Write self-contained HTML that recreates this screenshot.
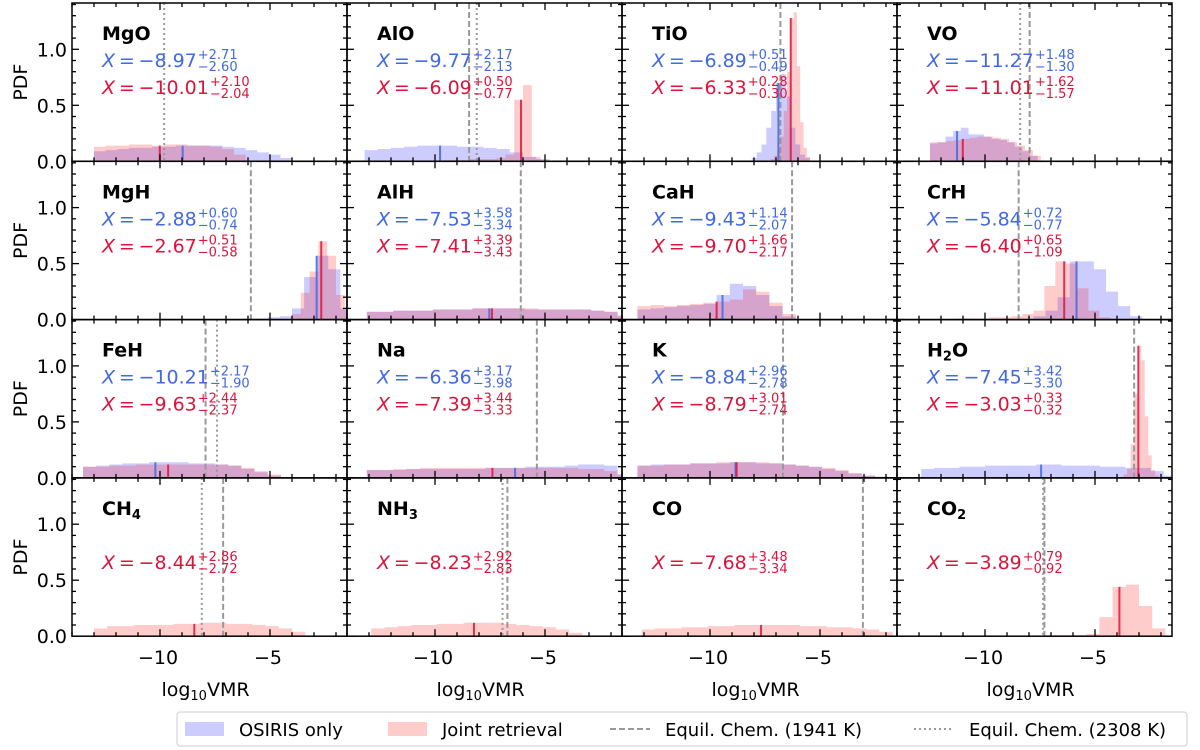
<!DOCTYPE html>
<html><head><meta charset="utf-8">
<style>
html,body{margin:0;padding:0;background:#fff;}
svg{display:block;font-family:"DejaVu Sans","Liberation Sans",sans-serif;}
</style></head>
<body>
<svg id="fig" width="1200" height="750" viewBox="0 0 1200 750" xmlns="http://www.w3.org/2000/svg">
<g id="panels"></g>
<g id="legend">
  <rect x="177" y="712" width="1010" height="34" rx="3" fill="#fff" stroke="#cccccc" stroke-width="1"/>
  <rect x="185" y="722" width="39" height="14" fill="#ccccff"/>
  <text x="239" y="736" font-size="18" fill="#000">OSIRIS only</text>
  <rect x="388" y="722" width="39" height="14" fill="#ffcccc"/>
  <text x="442" y="736" font-size="18" fill="#000">Joint retrieval</text>
  <line x1="610" y1="729" x2="650" y2="729" stroke="#999" stroke-width="2" stroke-dasharray="6,3"/>
  <text x="665" y="736" font-size="18" fill="#000">Equil. Chem. (1941 K)</text>
  <line x1="914" y1="729" x2="954" y2="729" stroke="#999" stroke-width="2" stroke-dasharray="2,3"/>
  <text x="969" y="736" font-size="18" fill="#000">Equil. Chem. (2308 K)</text>
</g>
</svg>
<script>
// ---- data ----
const panelNames = ["MgO","AlO","TiO","VO","MgH","AlH","CaH","CrH","FeH","Na","K","H2O","CH4","NH3","CO","CO2"];
const blueStart = [-13.0,-13.2,-8.1,-12.5,-6.2,-13.1,-13.3,-7.8,-13.5,-13.1,-13.3,-12.9,null,null,null,null];
const blueWidth = [0.53,0.6,0.22,0.35,0.55,0.6,0.6,0.55,0.6,0.6,0.6,0.58,0,0,0,0];
const blueHeights = [
 [0.09,0.10,0.11,0.12,0.12,0.13,0.13,0.14,0.14,0.14,0.14,0.13,0.12,0.10,0.08,0.06,0.03],
 [0.10,0.11,0.12,0.13,0.14,0.14,0.14,0.13,0.13,0.12,0.11,0.08,0.04,0.02],
 [0.03,0.08,0.15,0.30,0.45,0.70,0.78,0.58,0.30,0.15,0.06,0.03],
 [0.16,0.17,0.22,0.27,0.30,0.24,0.24,0.22,0.20,0.19,0.17,0.13,0.09,0.05],
 [0.01,0.01,0.02,0.03,0.10,0.38,0.57,0.45,0.10],
 [0.07,0.07,0.08,0.08,0.08,0.09,0.09,0.09,0.10,0.10,0.10,0.10,0.09,0.09,0.09,0.09,0.09,0.08,0.07,0.03],
 [0.09,0.10,0.11,0.12,0.13,0.14,0.22,0.32,0.30,0.22,0.12,0.03],
 [0.03,0.08,0.20,0.52,0.52,0.45,0.25,0.12,0.03],
 [0.10,0.11,0.12,0.13,0.13,0.14,0.14,0.14,0.13,0.13,0.12,0.11,0.08,0.05,0.02],
 [0.07,0.07,0.07,0.08,0.08,0.08,0.08,0.08,0.08,0.09,0.09,0.09,0.10,0.10,0.10,0.11,0.12,0.12,0.11,0.03],
 [0.11,0.12,0.12,0.12,0.13,0.13,0.13,0.14,0.14,0.13,0.13,0.12,0.11,0.10,0.08,0.06,0.04,0.02,0.01],
 [0.08,0.09,0.09,0.10,0.10,0.11,0.11,0.11,0.11,0.12,0.12,0.11,0.11,0.11,0.10,0.10,0.09,0.09,0.06,0.02],
 [],[],[],[]
];
const redStart = [-13.0,-9.6,-7.25,-12.5,-4.0,-13.1,-13.3,-11.3,-13.5,-13.1,-13.3,-3.7,-13.0,-12.9,-13.1,-7.2];
const redWidth = [0.53,0.4,0.15,0.36,0.4,0.6,0.6,0.5,0.6,0.6,0.6,0.16,0.6,0.6,0.6,0.6];
const redHeights = [
 [0.13,0.14,0.14,0.15,0.15,0.14,0.15,0.15,0.14,0.14,0.13,0.11,0.06],
 [0.01,0.01,0.01,0.02,0.02,0.02,0.03,0.06,0.55,0.68,0.04],
 [0.02,0.05,0.10,0.22,0.45,0.80,1.28,1.33,0.85,0.35,0.12,0.04],
 [0.17,0.17,0.18,0.19,0.20,0.21,0.22,0.22,0.21,0.20,0.17,0.14,0.10,0.05],
 [0.05,0.24,0.43,0.70,0.57,0.22,0.08],
 [0.07,0.07,0.08,0.08,0.08,0.09,0.09,0.09,0.10,0.10,0.10,0.10,0.10,0.09,0.09,0.09,0.09,0.08,0.07,0.04],
 [0.12,0.13,0.12,0.13,0.14,0.15,0.16,0.18,0.27,0.25,0.15,0.05],
 [0.01,0.01,0.01,0.02,0.02,0.03,0.05,0.08,0.30,0.52,0.50,0.28,0.08,0.02],
 [0.10,0.10,0.11,0.11,0.12,0.12,0.12,0.12,0.12,0.12,0.12,0.11,0.09,0.06,0.03],
 [0.07,0.07,0.08,0.08,0.09,0.09,0.09,0.09,0.09,0.09,0.09,0.09,0.09,0.09,0.09,0.09,0.08,0.08,0.06,0.03],
 [0.11,0.11,0.12,0.12,0.13,0.13,0.14,0.14,0.14,0.14,0.13,0.12,0.11,0.10,0.09,0.07,0.04,0.02,0.01],
 [0.03,0.08,0.30,0.75,1.18,1.05,0.55,0.20,0.07,0.02],
 [0.07,0.09,0.09,0.10,0.10,0.10,0.11,0.11,0.12,0.12,0.11,0.11,0.10,0.09,0.07,0.04],
 [0.07,0.08,0.09,0.10,0.10,0.11,0.11,0.12,0.12,0.12,0.11,0.10,0.09,0.08,0.06,0.03],
 [0.06,0.07,0.07,0.08,0.08,0.09,0.09,0.10,0.10,0.10,0.10,0.10,0.09,0.09,0.08,0.08,0.07,0.06,0.04],
 [0.01,0.01,0.01,0.02,0.17,0.44,0.46,0.27,0.07]
];
const blueMedian = [-8.97,-9.77,-6.89,-11.27,-2.88,-7.53,-9.43,-5.84,-10.21,-6.36,-8.84,-7.45,null,null,null,null];
const redMedian = [-10.01,-6.09,-6.33,-11.01,-2.67,-7.41,-9.70,-6.40,-9.63,-7.39,-8.79,-3.03,-8.44,-8.23,-7.68,-3.89];
const blueUp = ["+2.71","+2.17","+0.51","+1.48","+0.60","+3.58","+1.14","+0.72","+2.17","+3.17","+2.96","+3.42"];
const blueDown = ["−2.60","−2.13","−0.49","−1.30","−0.74","−3.34","−2.07","−0.77","−1.90","−3.98","−2.78","−3.30"];
const redUp = ["+2.10","+0.50","+0.28","+1.62","+0.51","+3.39","+1.66","+0.65","+2.44","+3.44","+3.01","+0.33","+2.86","+2.92","+3.48","+0.79"];
const redDown = ["−2.04","−0.77","−0.30","−1.57","−0.58","−3.43","−2.17","−1.09","−2.37","−3.33","−2.74","−0.32","−2.72","−2.83","−3.34","−0.92"];
const dashedX = [null,-8.45,-6.8,-7.97,-5.87,-6.1,-6.27,-8.47,-7.93,-5.37,-6.68,-3.22,-7.13,-6.71,-3.05,-7.3];
const dottedX = [-9.81,-8.1,null,-8.4,null,null,null,null,-7.41,null,null,null,-8.1,-6.93,null,-7.36];
const xTicksMajor = [-10,-5];
const yTicksMajor = [0.0,0.5,1.0];
const yTickLabels = ["0.0","0.5","1.0"];

// ---- layout ----
const NS="http://www.w3.org/2000/svg";
const X0=72, COLW=275, Y0=3, ROWH=158.3, XMIN=-14, XMAX=-1.5, YMAX=158.3/112;
function xs(v){return (v-XMIN)/(XMAX-XMIN)*COLW;}
function ys(v){return ROWH - v/YMAX*ROWH;}
function mk(tag, attrs, parent){const e=document.createElementNS(NS,tag);for(const k in attrs)e.setAttribute(k,attrs[k]);parent.appendChild(e);return e;}
function histPath(start,w,h){
  let d="M"+xs(start).toFixed(2)+","+ys(0).toFixed(2);
  for(let i=0;i<h.length;i++){
    const a=start+i*w,b=a+w;
    d+="L"+xs(a).toFixed(2)+","+ys(h[i]).toFixed(2)+"L"+xs(b).toFixed(2)+","+ys(h[i]).toFixed(2);
  }
  d+="L"+xs(start+h.length*w).toFixed(2)+","+ys(0).toFixed(2)+"Z";
  return d;
}
function histAt(start,w,h,v){const i=Math.floor((v-start)/w);return (i>=0&&i<h.length)?h[i]:0;}
function nameText(parent,name,x,y){
  const t=mk("text",{x:x,y:y,"font-size":"19","font-weight":"bold",fill:"#000"},parent);
  
  
  const m=name.match(/^([A-Za-z]+?)(\d)([A-Za-z]*)$/);
  if(m){
    t.appendChild(document.createTextNode(m[1]));
    const s=mk("tspan",{"font-size":"13",dy:"4"},t);s.textContent=m[2];
    if(m[3]){const r=mk("tspan",{dy:"-4"},t);r.textContent=m[3];}
  } else t.textContent=name;
}
function valueText(parent,x,y,val,up,down,color,nm){
  const g=mk("g",{},parent);
  
  
  const t=mk("text",{x:x,y:y,"font-size":"19",fill:color},g);
  const it=mk("tspan",{"font-style":"italic"},t);it.textContent="X";
  t.appendChild(document.createTextNode("\u2009=\u2009"+val));
  let w=t.getComputedTextLength? t.getComputedTextLength():0;
  if(!w) w=(val.length+3)*11;
  const u=mk("text",{x:x+w+1,y:y-8,"font-size":"13",fill:color},g);u.textContent=up;
  const d=mk("text",{x:x+w+1,y:y+4,"font-size":"13",fill:color},g);d.textContent=down;
}

const root=document.getElementById("panels");
for(let p=0;p<16;p++){
  const r=Math.floor(p/4), c=p%4;
  const px=X0+c*COLW, py=Y0+r*ROWH;
  const g=mk("g",{transform:"translate("+px+","+py+")"},root);
  
  
  const clipId="clip"+p;
  const cp=mk("clipPath",{id:clipId},g);mk("rect",{x:0,y:0,width:COLW,height:ROWH},cp);
  const inner=mk("g",{"clip-path":"url(#"+clipId+")"},g);
  if(blueStart[p]!==null){
    const b=mk("path",{d:histPath(blueStart[p],blueWidth[p],blueHeights[p]),fill:"#0000ff","fill-opacity":"0.2"},inner);
    
    
  }
  const rd=mk("path",{d:histPath(redStart[p],redWidth[p],redHeights[p]),fill:"#ff0000","fill-opacity":"0.2"},inner);
  
  
  if(blueMedian[p]!==null){
    const hh=histAt(blueStart[p],blueWidth[p],blueHeights[p],blueMedian[p]);
    const l=mk("line",{x1:xs(blueMedian[p]),x2:xs(blueMedian[p]),y1:ys(0),y2:ys(hh),stroke:"#4169e1","stroke-width":"2","stroke-opacity":"0.85"},inner);
    
    
  }
  {
    const hh=histAt(redStart[p],redWidth[p],redHeights[p],redMedian[p]);
    const l=mk("line",{x1:xs(redMedian[p]),x2:xs(redMedian[p]),y1:ys(0),y2:ys(hh),stroke:"#dc143c","stroke-width":"2","stroke-opacity":"0.85"},inner);
    
    
  }
  if(dashedX[p]!==null){
    const l=mk("line",{x1:xs(dashedX[p]),x2:xs(dashedX[p]),y1:0,y2:ROWH,stroke:"#999","stroke-width":"2","stroke-dasharray":"6,3"},inner);
    
    
  }
  if(dottedX[p]!==null){
    const l=mk("line",{x1:xs(dottedX[p]),x2:xs(dottedX[p]),y1:0,y2:ROWH,stroke:"#999","stroke-width":"2","stroke-dasharray":"2,3"},inner);
    
    
  }
  nameText(g,panelNames[p],30,37);
  if(blueMedian[p]!==null){
    valueText(g,30,64,(blueMedian[p]<0?"−":"")+Math.abs(blueMedian[p]).toFixed(2),blueUp[p],blueDown[p],"#4169e1","osiris-value-text");
  }
  valueText(g,30,91,(redMedian[p]<0?"−":"")+Math.abs(redMedian[p]).toFixed(2),redUp[p],redDown[p],"#dc143c","joint-value-text");
  // ticks
  const tk=mk("g",{stroke:"#000","stroke-width":"1.3"},g);
  
  
  for(let v=Math.ceil(XMIN);v<=XMAX;v++){
    const major=xTicksMajor.indexOf(v)>=0, L=major?7:4, x=xs(v);
    mk("line",{x1:x,x2:x,y1:ROWH,y2:ROWH-L},tk);
    mk("line",{x1:x,x2:x,y1:0,y2:L},tk);
  }
  for(let k=0;k<=14;k++){
    const v=k*0.1, major=(k%5===0), L=major?7:4, y=ys(v);
    if(y<0) continue;
    mk("line",{x1:0,x2:L,y1:y,y2:y},tk);
    mk("line",{x1:COLW,x2:COLW-L,y1:y,y2:y},tk);
  }
  const fr=mk("rect",{x:0,y:0,width:COLW,height:ROWH,fill:"none",stroke:"#000","stroke-width":"1.5"},g);
  
  
  if(c===0){
    for(let i=0;i<yTicksMajor.length;i++){
      const t=mk("text",{x:-5,y:ys(yTicksMajor[i])+7,"font-size":"19","text-anchor":"end",fill:"#000"},g);
      
      
      t.textContent=yTickLabels[i];
    }
    const yl=mk("text",{x:0,y:0,"font-size":"19","text-anchor":"middle",fill:"#000",transform:"translate(-45,"+(ROWH/2)+") rotate(-90)"},g);
    
    
    yl.textContent="PDF";
  }
  if(r===3){
    for(const v of xTicksMajor){
      const t=mk("text",{x:xs(v)-2,y:ROWH+28,"font-size":"19","text-anchor":"middle",fill:"#000"},g);
      
      
      t.textContent="−"+Math.abs(v);
    }
    const xl=mk("text",{x:COLW/2-4,y:ROWH+60,"font-size":"19","text-anchor":"middle",fill:"#000"},g);
    
    
    xl.appendChild(document.createTextNode("log"));
    const s=mk("tspan",{"font-size":"13",dy:"4"},xl);s.textContent="10";
    const s2=mk("tspan",{dy:"-4"},xl);s2.textContent="VMR";
  }
}
</script>
</body></html>
